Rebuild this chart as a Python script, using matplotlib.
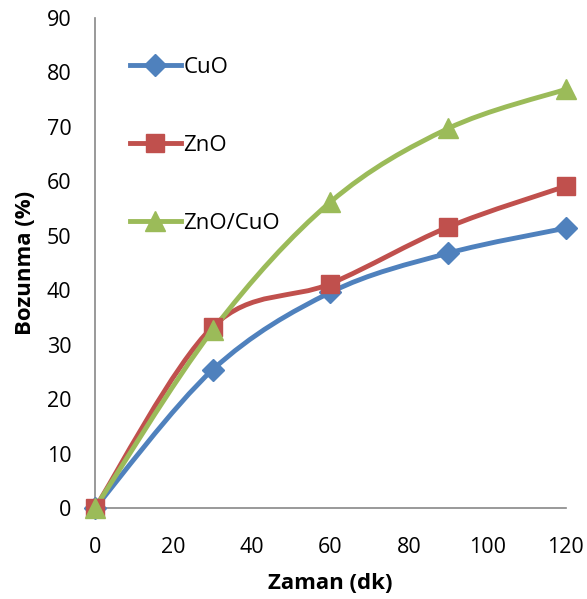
import numpy as np
import matplotlib
matplotlib.use("Agg")
import matplotlib.pyplot as plt
from matplotlib.path import Path
from matplotlib.patches import PathPatch
from matplotlib.lines import Line2D

plt.rcParams['font.family'] = ['Open Sans', 'DejaVu Sans']

# data
zaman = [0, 30, 60, 90, 120]
cuo = [0, 25.4, 39.6, 46.8, 51.4]
zno = [0, 33.3, 41.2, 51.6, 59.1]
zno_cuo = [0, 32.7, 56.2, 69.7, 76.9]

series = [
    ("CuO", cuo, "#4F81BD", "D", 11),
    ("ZnO", zno, "#C0504D", "s", 13),
    ("ZnO/CuO", zno_cuo, "#9BBB59", "^", 14),
]


# Excel-like smoothed line (bezier through the points)
def smooth_path(x, y):
    pts = np.column_stack([x, y]).astype(float)
    n = len(pts)
    verts = [pts[0]]
    codes = [Path.MOVETO]
    for i in range(n - 1):
        p0 = pts[i - 1] if i > 0 else pts[i]
        p1 = pts[i]
        p2 = pts[i + 1]
        p3 = pts[i + 2] if i + 2 < n else pts[i + 1]
        c1 = p1 + (p2 - p0) / 6.0
        c2 = p2 - (p3 - p1) / 6.0
        verts += [c1, c2, p2]
        codes += [Path.CURVE4] * 3
    return Path(verts, codes)


fig = plt.figure(figsize=(5.87, 5.99), dpi=100)
ax = fig.add_axes([0.162, 0.152, 0.802, 0.818])

handles = []
for name, vals, col, mk, ms in series:
    patch = PathPatch(smooth_path(zaman, vals), facecolor='none', edgecolor=col,
                      lw=3.5, capstyle='round', joinstyle='round', zorder=2)
    ax.add_patch(patch)
    ax.plot(zaman, vals, linestyle='none', marker=mk, markersize=ms,
            color=col, markeredgecolor=col, zorder=3, clip_on=False)
    handles.append(Line2D([], [], color=col, lw=3.5, marker=mk, markersize=ms,
                          markeredgecolor=col, label=name))

ax.set_xlim(0, 120)
ax.set_ylim(0, 90)
ax.set_xticks(np.arange(0, 121, 20))
ax.set_yticks(np.arange(0, 91, 10))
ax.tick_params(length=0, labelsize=15.5)
ax.tick_params(axis='x', pad=21)
ax.tick_params(axis='y', pad=17)

for s in ['top', 'right']:
    ax.spines[s].set_visible(False)
for s in ['left', 'bottom']:
    ax.spines[s].set_color('#878787')
    ax.spines[s].set_linewidth(1.2)

ax.set_xlabel('Zaman (dk)', fontsize=16, fontweight='bold', labelpad=11)
ax.set_ylabel('Bozunma (%)', fontsize=16, fontweight='bold', labelpad=8)

leg = ax.legend(handles=handles, loc='upper left', bbox_to_anchor=(0.055, 0.938),
                frameon=False, fontsize=16, labelspacing=2.55,
                handlelength=2.3, handletextpad=0.1, borderaxespad=0)

fig.savefig('out.png', dpi=100)
